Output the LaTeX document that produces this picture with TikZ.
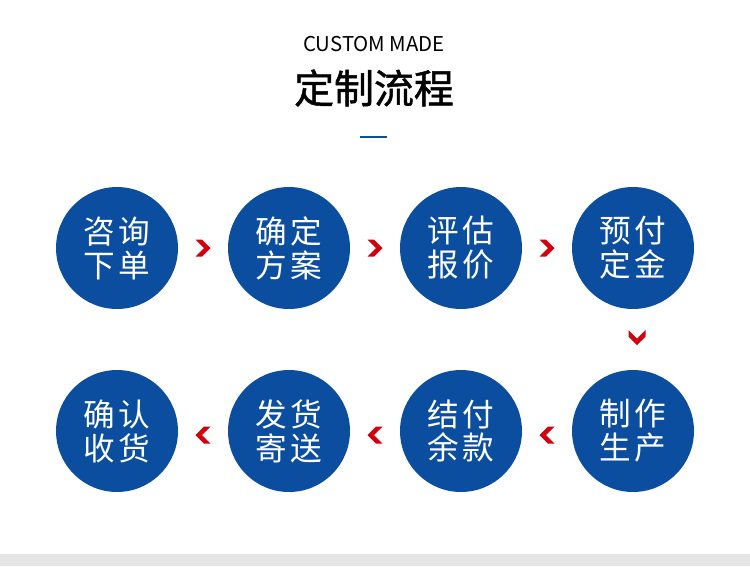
\documentclass[tikz,border=0pt]{standalone}
\usepackage{fontspec}
\setmainfont{Noto Sans CJK SC}
\newfontfamily\titlefont{Noto Sans CJK SC}[FakeBold=1.2]
\usetikzlibrary{calc,positioning}
\definecolor{flowblue}{HTML}{0B4EA0}
\definecolor{flowred}{HTML}{D2000C}
\definecolor{bargrey}{HTML}{E5E5E5}
\tikzset{
  stage/.style={
    shape = circle,
    fill = flowblue,
    inner sep = 0pt,
    minimum size = 2.44cm,
    text = white,
    align = center,
    font = \fontsize{18}{19.3}\selectfont
  },
  chev/.pic={
    \fill[flowred] (-7.5,-8.5) -- (-1,-8.5) -- (7.5,0) -- (-1,8.5) -- (-7.5,8.5) -- (1,0) -- cycle;
  },
}
\newcommand{\gap}{\hspace{1.8pt}}
\begin{document}
\begin{tikzpicture}[x=0.02cm,y=-0.02cm]
\useasboundingbox (0,0) rectangle (750,566);
\fill[bargrey] (0,554) rectangle (750,566);
% title
\node (sub) at (374,44.5) {\fontsize{11.6}{12}\selectfont CUSTOM MADE};
\node (title) at (374,88) {\fontsize{22.7}{24}\selectfont\titlefont 定制流程};
\draw[flowblue, line width=0.04cm] (360,137) -- (387,137);
% steps
\node[stage] (c1) at (117,248) {咨\gap 询\\下\gap 单};
\node[stage] (c2) at (289,248) {确\gap 定\\方\gap 案};
\node[stage] (c3) at (461,248) {评\gap 估\\报\gap 价};
\node[stage] (c4) at (633,248) {预\gap 付\\定\gap 金};
\node[stage] (c5) at (633,431) {制\gap 作\\生\gap 产};
\node[stage] (c6) at (461,431) {结\gap 付\\余\gap 款};
\node[stage] (c7) at (289,431) {发\gap 货\\寄\gap 送};
\node[stage] (c8) at (117,431) {确\gap 认\\收\gap 货};
\foreach \a/\b in {c1/c2,c2/c3,c3/c4}
  \pic at ($(\a)!0.5!(\b)$) {chev};
\pic[rotate=-90] at ($(c4)!0.5!(c5)+(4,-2)$) {chev};
\foreach \a/\b in {c5/c6,c6/c7,c7/c8}
  \pic[rotate=180] at ($(\a)!0.5!(\b)+(0,4)$) {chev};
\end{tikzpicture}
\end{document}
